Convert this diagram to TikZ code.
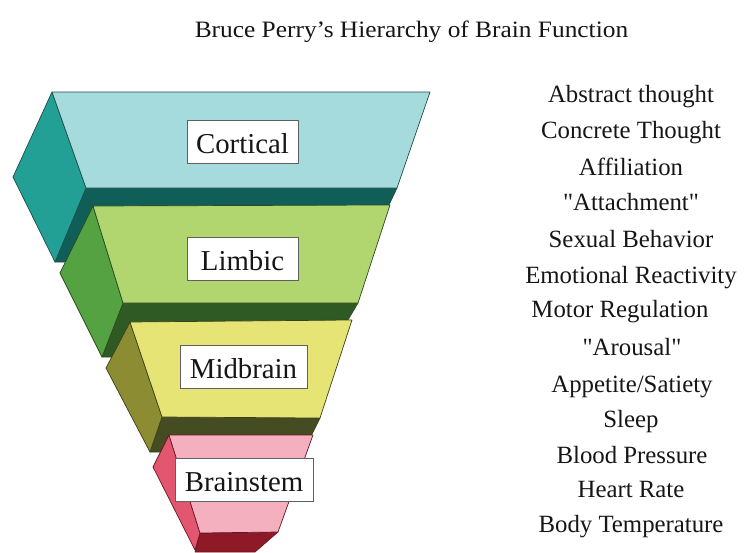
\documentclass[tikz,border=0pt]{standalone}
\usepackage{fontspec}
\setmainfont{Liberation Serif}[Ligatures=TeXOff]
\definecolor{cortF}{HTML}{A5DBDC}
\definecolor{cortS}{HTML}{22A096}
\definecolor{cortB}{HTML}{105E58}
\definecolor{cortL}{HTML}{1E4E4A}
\definecolor{limF}{HTML}{B1D56F}
\definecolor{limS}{HTML}{55A243}
\definecolor{limB}{HTML}{2F5A23}
\definecolor{limL}{HTML}{2A4A1E}
\definecolor{midF}{HTML}{E7E476}
\definecolor{midS}{HTML}{8C8C33}
\definecolor{midB}{HTML}{454C22}
\definecolor{midL}{HTML}{3A401C}
\definecolor{brF}{HTML}{F5B0C0}
\definecolor{brS}{HTML}{E25670}
\definecolor{brB}{HTML}{8E1A28}
\definecolor{brL}{HTML}{6A1420}
\definecolor{txt}{HTML}{161616}
\begin{document}
\begin{tikzpicture}[x=1pt,y=-1pt,
  face/.style={line width=0.7pt,line join=round},
  lbox/.style={draw=gray!75!black,fill=white,line width=0.9pt,inner sep=0pt,
    text height=23pt,text depth=0pt,minimum height=43pt,
    font=\fontsize{28.8}{30}\selectfont,text=txt},
  item/.style={anchor=base,inner sep=0pt,font=\fontsize{24.8}{26}\selectfont,text=txt}]
\useasboundingbox (0,0) rectangle (744,552);
\fill[white] (0,0) rectangle (744,552);

% title
\node[anchor=base,inner sep=0pt,text=txt] (title) at (411.5,37)
  {\scalebox{1.08}[1]{\fontsize{23.5}{25}\selectfont Bruce Perry’s Hierarchy of Brain Function}};

% Cortical block
\draw[face,draw=cortL,fill=cortB] (86,188) -- (397,188) -- (362,262) -- (55,262) -- cycle;
\draw[face,draw=cortL,fill=cortS] (52,92) -- (13,177) -- (55,262) -- (86,188) -- cycle;
\draw[face,draw=cortL,fill=cortF] (52,92) -- (430,92) -- (397,188) -- (86,188) -- cycle;

% Limbic block
\draw[face,draw=limL,fill=limB] (123,303) -- (358,303) -- (326,357) -- (102,357) -- cycle;
\draw[face,draw=limL,fill=limS] (93,206) -- (60,273) -- (102,357) -- (123,303) -- cycle;
\draw[face,draw=limL,fill=limF] (93,206) -- (390,205) -- (358,303) -- (123,303) -- cycle;

% Midbrain block
\draw[face,draw=midL,fill=midB] (162,417) -- (320,418) -- (303,452) -- (150,452) -- cycle;
\draw[face,draw=midL,fill=midS] (130,322) -- (106,368) -- (150,452) -- (162,417) -- cycle;
\draw[face,draw=midL,fill=midF] (130,322) -- (352,320) -- (320,418) -- (162,417) -- cycle;

% Brainstem block
\draw[face,draw=brL,fill=brB] (200,533) -- (278,532) -- (255,552) -- (195,552) -- cycle;
\draw[face,draw=brL,fill=brS] (169,435) -- (153,467) -- (195,550) -- (200,533) -- cycle;
\draw[face,draw=brL,fill=brF] (169,435) -- (313,435) -- (278,532) -- (200,533) -- cycle;

% labels
\node[lbox,minimum width=111pt] (cortical) at (242.5,141.5) {Cortical};
\node[lbox,minimum width=111pt] (limbic) at (242.5,259) {Limbic};
\node[lbox,minimum width=127pt] (midbrain) at (243.5,366.5) {Midbrain};
\node[lbox,minimum width=138pt] (brainstem) at (244,480) {Brainstem};

% functions list
\node[item] (i1) at (631,102) {Abstract thought};
\node[item] (i2) at (631,138) {Concrete Thought};
\node[item] (i3) at (631,175) {Affiliation};
\node[item] (i4) at (631,210) {"Attachment"};
\node[item] (i5) at (631,247) {Sexual Behavior};
\node[item] (i6) at (631,283) {Emotional Reactivity};
\node[item] (i7) at (620,317) {Motor Regulation};
\node[item] (i8) at (632,355) {"Arousal"};
\node[item] (i9) at (632,392) {Appetite/Satiety};
\node[item] (i10) at (631,427) {Sleep};
\node[item] (i11) at (632,463) {Blood Pressure};
\node[item] (i12) at (631,497) {Heart Rate};
\node[item] (i13) at (631,532) {Body Temperature};
\end{tikzpicture}
\end{document}
